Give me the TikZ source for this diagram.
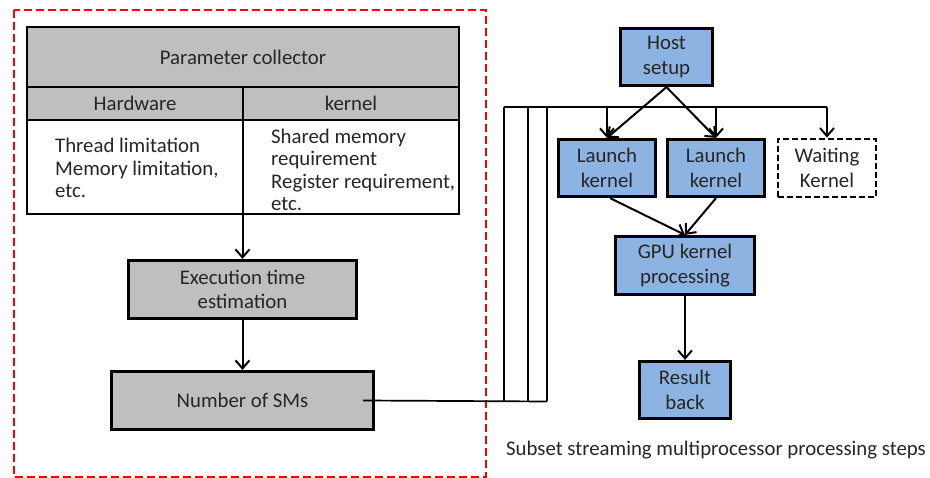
\documentclass[tikz,border=0pt]{standalone}
\usepackage{fontspec}
\setmainfont{Carlito}
\usetikzlibrary{arrows.meta}
\definecolor{boxgrey}{HTML}{BFBFBF}
\definecolor{boxblue}{HTML}{8DB3E2}
\definecolor{ink}{HTML}{262626}

\begin{document}
\begin{tikzpicture}[x=1pt, y=-1pt,
  font=\fontsize{20.8}{22.3}\selectfont, text=ink,
  boxfont/.style={font=\fontsize{20.8}{24.5}\selectfont},
  greybox/.style={draw=black, line width=3.2pt, fill=boxgrey, inner sep=0pt, align=center, boxfont},
  bluebox/.style={draw=black, line width=3.2pt, fill=boxblue, inner sep=0pt, align=center, boxfont},
  waitbox/.style={draw=black, line width=2.8pt, dash pattern=on 6pt off 3pt, fill=white, inner sep=0pt, align=center, boxfont},
  cell/.style={draw=black, line width=2.6pt, inner sep=0pt, align=center},
  conn/.style={line width=2pt, -{Straight Barb[length=8pt, width=14pt, line width=2pt]}},
  wire/.style={line width=1.7pt},
]
\useasboundingbox (0,0) rectangle (930,478);

% estimator frame
\draw[red, line width=2.6pt, dash pattern=on 8pt off 4pt] (14,10) rectangle (486,477);

% parameter collector table
\node[cell, fill=boxgrey, minimum width=432pt, minimum height=60pt] (pc) at (243,57) {Parameter collector};
\node[cell, fill=boxgrey, minimum width=216pt, minimum height=33pt] (hw) at (135,103.5) {Hardware};
\node[cell, fill=boxgrey, minimum width=216pt, minimum height=33pt] (kn) at (351,103.5) {kernel};
\node[cell, fill=white, minimum width=216pt, minimum height=94pt] (hwbody) at (135,167) {};
\node[cell, fill=white, minimum width=216pt, minimum height=94pt] (knbody) at (351,167) {};
\node[anchor=west, align=left, inner sep=0pt] (hwtext) at (55,168)
  {Thread limitation\\Memory limitation,\\etc.};
\node[anchor=west, align=left, inner sep=0pt] (kntext) at (271,170)
  {Shared memory\\requirement\\Register requirement,\\etc.};

% estimation chain
\node[greybox, minimum width=228pt, minimum height=58pt] (exec) at (242.5,289.5)
  {Execution time\\estimation};
\node[greybox, minimum width=262pt, minimum height=58pt] (nsm) at (242.5,400.5)
  {Number of SMs};

\draw[conn] (exec.north |- hwbody.south) -- (exec.north);
\draw[conn] (exec.south) -- (nsm.north);

% streaming steps
\node[bluebox, minimum width=92pt, minimum height=57pt] (host) at (666.5,57) {Host\\setup};
\node[bluebox, minimum width=97pt, minimum height=57pt] (l1) at (607,168) {Launch\\kernel};
\node[bluebox, minimum width=97pt, minimum height=57pt] (l2) at (716,168) {Launch\\kernel};
\node[waitbox, minimum width=98pt, minimum height=58pt] (wk) at (827,168) {Waiting\\Kernel};
\node[bluebox, minimum width=139pt, minimum height=58pt] (gpu) at (685,265.5) {GPU kernel\\processing};
\node[bluebox, minimum width=91pt, minimum height=57pt] (res) at (685,390) {Result\\back};

\node[inner sep=0pt] (cap) at (716,450) {Subset streaming multiprocessor processing steps};

% bus from the SM count to the kernel launches
\coordinate (busA) at (504,107);
\coordinate (busB) at (528,107);
\coordinate (busC) at (547,107);
\coordinate (busEnd) at (827,107);
\coordinate (busLow) at (547,401.5);
\draw[wire] ([xshift=-12pt]nsm.east) -- (busLow);
\draw[wire] (busA) -- (busA |- busLow);
\draw[wire] (busB) -- (busB |- busLow);
\draw[wire] (busC) -- (busLow);
\draw[wire] (busA) -- (busEnd);
\draw[conn] (l1.north |- busA) -- (l1.north);
\draw[conn] (l2.north |- busA) -- (l2.north);
\draw[conn] (busEnd) -- (wk.north);

\draw[conn] (host.south) -- (l1.north);
\draw[conn] (host.south) -- (l2.north);
\draw[conn] ([xshift=3pt]l1.south) -- (gpu.north);
\draw[conn] (l2.south) -- (gpu.north);
\draw[conn] (gpu.south) -- (res.north);
\end{tikzpicture}
\end{document}
